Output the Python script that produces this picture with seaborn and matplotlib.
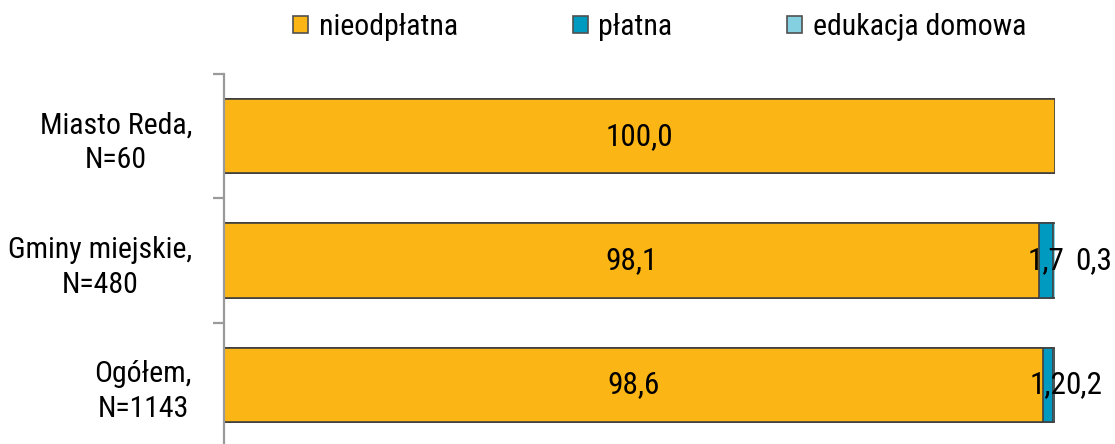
import matplotlib
matplotlib.use("Agg")
import matplotlib.pyplot as plt
import seaborn as sns
import pandas as pd
import numpy as np
from matplotlib.patches import Patch

categories = ["Miasto Reda,\nN=60", "Gminy miejskie,\nN=480", "Ogółem,\nN=1143"]
series_names = ["nieodpłatna", "płatna", "edukacja domowa"]
nieodplatna = [100.0, 98.1, 98.6]
platna = [0.0, 1.7, 1.2]
edukacja = [0.0, 0.3, 0.2]
colors = ["#FBB514", "#0099C0", "#84D0E0"]

sns.set_style("white")
FONT = ["Liberation Sans Narrow", "Arial Narrow", "Roboto Condensed", "Archivo Narrow", "DejaVu Sans"]
plt.rcParams["font.family"] = FONT
plt.rcParams["text.color"] = "black"
FS = 22.5
FS_LAB = 21.5

fig = plt.figure(figsize=(11.15, 4.44), dpi=100)
ax = fig.add_axes([224/1115, -3/444, 831/1115, 373/444])

vals = np.array([nieodplatna, platna, edukacja])
cums = np.cumsum(vals, axis=0)
for i in range(2, -1, -1):
    df = pd.DataFrame({"cat": categories, "v": cums[i]})
    sns.barplot(data=df, y="cat", x="v", orient="h", color=colors[i],
                saturation=1, width=0.6, edgecolor="#404040", linewidth=1.2, ax=ax)

ax.set_xlim(0, 100)
ax.set_ylim(2.5, -0.5)
ax.set_xlabel("")
ax.set_ylabel("")
ax.set_xticks([])
for s in ["top", "right", "bottom"]:
    ax.spines[s].set_visible(False)
ax.spines["left"].set_color("#9a9a9a")
ax.spines["left"].set_linewidth(1.6)
ax.set_yticks([-0.5, 0.5, 1.5, 2.5], minor=True)
ax.tick_params(axis="y", which="major", length=0, pad=23, labelsize=FS_LAB, labelcolor="black")
ax.tick_params(axis="y", which="minor", length=8, width=1.6, color="#9a9a9a", direction="out", left=True)
for lab in ax.get_yticklabels():
    lab.set_multialignment("center")
    lab.set_linespacing(1.33)

# value labels (third series placed just right of the bar end)
third_offsets = [0, 20, 10]
for j in range(3):
    for i in range(3):
        v = vals[i][j]
        if v <= 0:
            continue
        txt = f"{v:.1f}".replace(".", ",")
        if i == 2:
            ax.annotate(txt, xy=(min(cums[i][j], 100), j), xytext=(third_offsets[j], 0),
                        textcoords="offset pixels", ha="left", va="center", fontsize=FS,
                        annotation_clip=False)
        else:
            ax.text(cums[i][j] - v / 2, j, txt, ha="center", va="center", fontsize=FS)

handles = [Patch(facecolor=c, edgecolor="#505050", linewidth=1.2) for c in colors]
fig.legend(handles, series_names, loc="upper left", bbox_to_anchor=(292/1115, 1 - 12/444),
           ncol=3, frameon=False, fontsize=FS_LAB, handlelength=0.5, handleheight=0.5,
           handletextpad=0.35, columnspacing=3.85, borderpad=0.05, borderaxespad=0)

fig.savefig("out.png", dpi=100)
